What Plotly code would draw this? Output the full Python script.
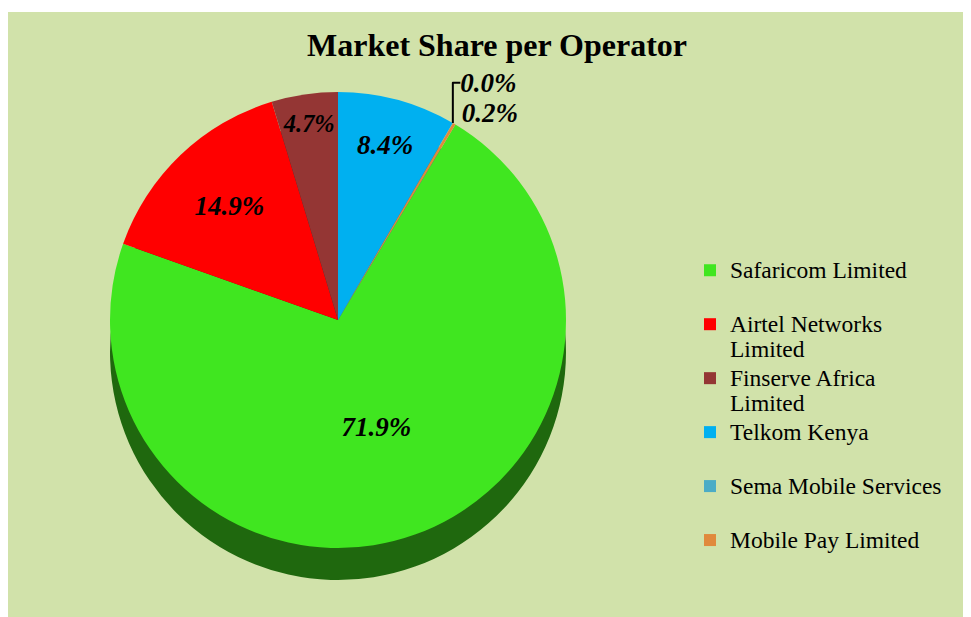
import plotly.graph_objects as go

operators = ["Safaricom Limited", "Airtel Networks Limited", "Finserve Africa Limited",
             "Telkom Kenya", "Sema Mobile Services", "Mobile Pay Limited"]
legend_lines = [["Safaricom Limited", "\u00a0"], ["Airtel Networks", "Limited"],
                ["Finserve Africa", "Limited"], ["Telkom Kenya", "\u00a0"],
                ["Sema Mobile Services", "\u00a0"], ["Mobile Pay Limited", "\u00a0"]]
share = [71.9, 14.9, 4.7, 8.4, 0.02, 0.2]
colors = ["#40E620", "#FF0000", "#943634", "#00B0F0", "#4BACC6", "#E08A3C"]
side_colors = ["#1F680E", "#8B0000", "#5A1E1C", "#00789E", "#2E7284", "#9A5A22"]
text_pos = ["inside", "inside", "inside", "inside", "outside", "outside"]

# page has an 8px body margin, so the figure is slightly smaller than the window
W, H = 963, 609
OFF = 8
BG = "#D1E2AA"

def span(t):
    return '<span style="font-size:23.5px">' + t + '</span>'

legend_labels = ["<br>".join(span(l) for l in lines) for lines in legend_lines]

# pie geometry in page pixels
cx, cy, r, depth = 338, 320, 228, 32
fx, fy = cx - OFF, cy - OFF

fig = go.Figure()
fig.add_trace(go.Pie(
    labels=legend_labels, values=share, sort=False, direction="clockwise", rotation=31,
    marker=dict(colors=side_colors, line=dict(width=0)),
    textinfo="none", hoverinfo="skip", showlegend=False,
    domain=dict(x=[(fx - r) / W, (fx + r) / W],
                y=[1 - (fy + depth + r) / H, 1 - (fy + depth - r) / H]),
))
fig.add_trace(go.Pie(
    labels=legend_labels, values=share, sort=False, direction="clockwise", rotation=31,
    marker=dict(colors=colors, line=dict(width=0)),
    texttemplate="%{value:.1f}%", textposition=text_pos,
    insidetextorientation="horizontal",
    textfont=dict(family="Liberation Serif", size=27, color="black", weight="bold", style="italic"),
    hoverinfo="label+percent",
    domain=dict(x=[(fx - r) / W, (fx + r) / W],
                y=[1 - (fy + r) / H, 1 - (fy - r) / H]),
))

fig.update_layout(
    width=W, height=H,
    margin=dict(l=0, r=0, t=0, b=0),
    paper_bgcolor=BG, plot_bgcolor=BG,
    title=dict(text="<b>Market Share per Operator</b>", x=(497 - OFF) / W, xanchor="center",
               y=1 - (45 - OFF) / H, yanchor="middle",
               font=dict(family="Liberation Serif", size=32, color="black")),
    legend=dict(x=(690 - OFF) / W, xanchor="left", y=1 - (251 - OFF) / H, yanchor="top",
                valign="top", bgcolor="rgba(0,0,0,0)",
                font=dict(family="Liberation Serif", size=19.6, color="black")),
    shapes=[
        dict(type="rect", xref="paper", yref="paper", x0=0, x1=1, y0=1 - 4 / H, y1=1,
             fillcolor="white", line=dict(width=0), layer="above"),
    ],
)

fig.write_html("out.html")
